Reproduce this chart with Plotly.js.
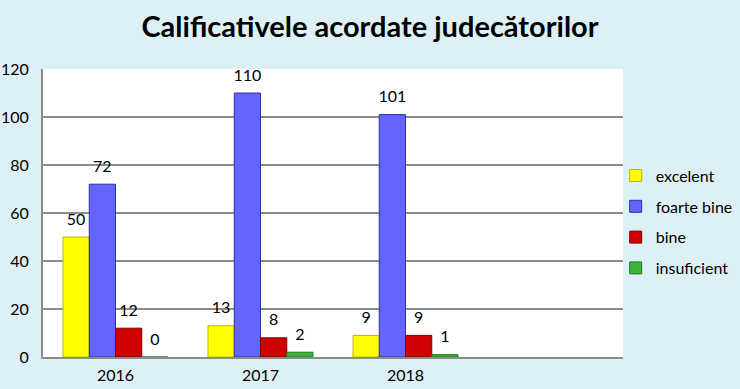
<!DOCTYPE html>
<html>
<head>
<meta charset="utf-8">
<script src="https://cdn.plot.ly/plotly-3.0.1.min.js"></script>
<style>html,body{margin:0;padding:0;background:#ddf0f5;}</style>
</head>
<body>
<div id="chart" style="width:740px;height:389px;"></div>
<script>
const years = ["2016", "2017", "2018"];
const seriesNames = ["excelent", "foarte bine", "bine", "insuficient"];
const excelent = [50, 13, 9];
const foarteBine = [72, 110, 101];
const bine = [12, 8, 9];
const insuficient = [0, 2, 1];
const yTicks = [0, 20, 40, 60, 80, 100, 120];

const values = [excelent, foarteBine, bine, insuficient];
const fills = ["#ffff00", "#6464ff", "#d00000", "#3cb43c"];
const lines = ["#b8b800", "#3030a0", "#800000", "#1e7a1e"];

const barTraces = values.map((v, i) => ({
  type: "bar",
  name: seriesNames[i],
  x: years,
  y: v,
  offsetgroup: "s" + i,
  legendgroup: "g" + i,
  marker: {color: fills[i], line: {color: lines[i], width: 1}}
}));

const labelTraces = values.map((v, i) => ({
  type: "scatter",
  mode: "markers+text",
  x: years,
  y: v,
  offsetgroup: "s" + i,
  text: v.map(String),
  textposition: "top center",
  textfont: {family: "Lato, sans-serif", size: 16, color: "#000"},
  marker: {size: 12, opacity: 0},
  cliponaxis: false,
  showlegend: false,
  hoverinfo: "skip"
}));

const layout = {
  width: 740, height: 389,
  paper_bgcolor: "#ddf0f5",
  plot_bgcolor: "#ffffff",
  margin: {l: 43, r: 117, t: 69, b: 32, autoexpand: false},
  font: {family: "Lato, sans-serif", size: 16, color: "#000"},
  title: {text: "<b>Calificativele acordate judecătorilor</b>", x: 0.5, xanchor: "center", y: 0.93, yanchor: "middle",
          font: {family: "Lato, sans-serif", size: 29, color: "#000"}},
  barmode: "group",
  bargap: 0.276,
  bargroupgap: 0,
  scattermode: "group",
  scattergap: 0.276,
  showlegend: true,
  legend: {xref: "container", yref: "container", x: 0.832, xanchor: "left", y: 0.429, yanchor: "middle",
           bgcolor: "rgba(0,0,0,0)", itemwidth: 30,
           font: {family: "Lato, sans-serif", size: 16, color: "#000"}, tracegroupgap: 7, traceorder: "grouped"},
  xaxis: {type: "category", range: [-0.5, 3.5], showgrid: false, showline: true, linecolor: "#8c8c8c", linewidth: 2,
          ticks: "", ticklabelstandoff: 3, tickfont: {family: "Lato, sans-serif", size: 16, color: "#000"}, fixedrange: true},
  yaxis: {range: [0, 120], tickvals: yTicks, showgrid: true, gridcolor: "#8c8c8c", gridwidth: 1.5,
          showline: true, linecolor: "#8c8c8c", linewidth: 2, zeroline: false, ticks: "",
          ticklabelstandoff: 9, tickfont: {family: "Lato, sans-serif", size: 16, color: "#000"}, fixedrange: true}
};

Plotly.newPlot("chart", barTraces.concat(labelTraces), layout, {displayModeBar: false, staticPlot: true});
</script>
</body>
</html>
